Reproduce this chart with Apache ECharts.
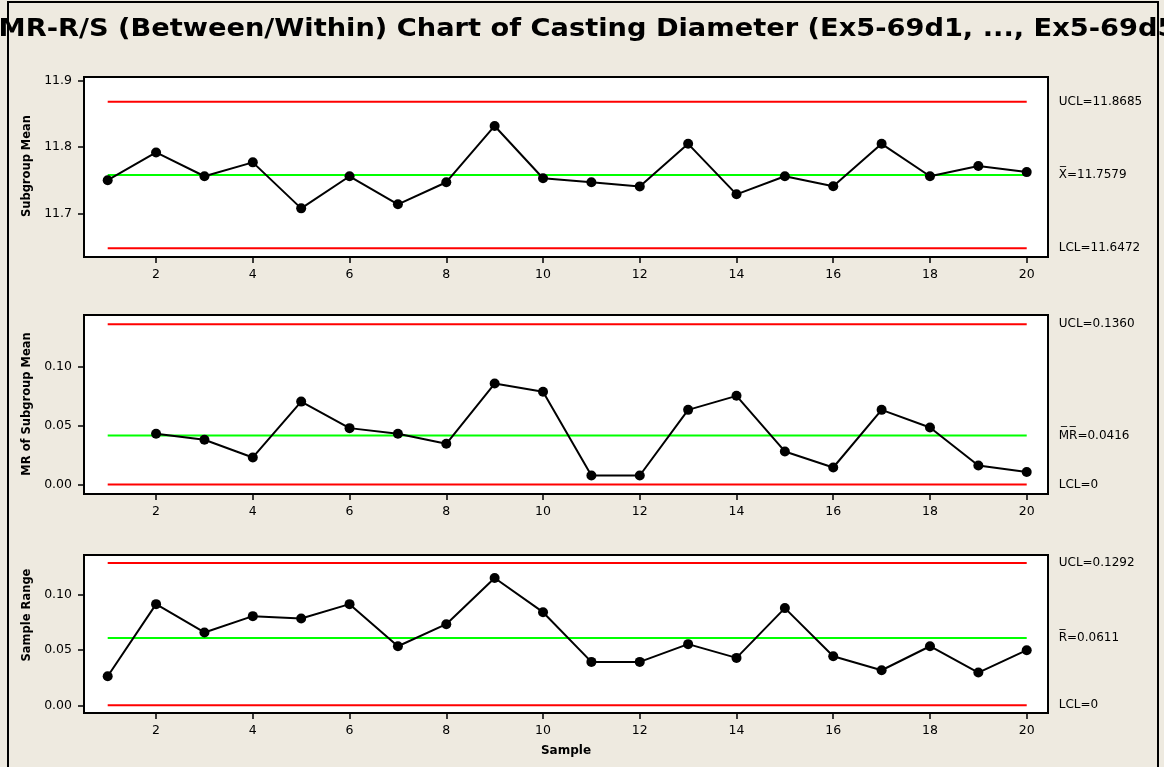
<!DOCTYPE html>
<html>
<head>
<meta charset="utf-8">
<script src="https://cdn.jsdelivr.net/npm/echarts@6/dist/echarts.min.js"></script>
<style>
  html, body { margin: 0; padding: 0; background: #EEEAE0; }
  #chart { width: 1164px; height: 767px; }
</style>
</head>
<body>
<div id="chart"></div>
<script>
// Casting diameter, 20 subgroups (Ex5-69d1 ... Ex5-69d5)
const samples = [1, 2, 3, 4, 5, 6, 7, 8, 9, 10, 11, 12, 13, 14, 15, 16, 17, 18, 19, 20];

const subgroupMeans = [11.750, 11.792, 11.756, 11.777, 11.7075, 11.756, 11.7136, 11.747, 11.832, 11.753,
                       11.747, 11.7407, 11.805, 11.7287, 11.756, 11.741, 11.805, 11.756, 11.7714, 11.7623];

// moving range of subgroup means (starts at sample 2)
const movingRanges = [null, 0.0430, 0.0379, 0.0229, 0.0703, 0.0478, 0.0430, 0.0345, 0.0856, 0.0786,
                      0.0076, 0.0076, 0.0633, 0.0752, 0.0280, 0.0144, 0.0633, 0.0483, 0.0161, 0.0105];

const sampleRanges = [0.0264, 0.0918, 0.0661, 0.0809, 0.0788, 0.0918, 0.0536, 0.0736, 0.1155, 0.0845,
                      0.0394, 0.0394, 0.0555, 0.0430, 0.0882, 0.0445, 0.0318, 0.0536, 0.0297, 0.0500];

// [UCL, centre line, LCL]
const meanLimits  = [11.8685, 11.7579, 11.6472];
const mrLimits    = [0.1360, 0.0416, 0];
const rangeLimits = [0.1292, 0.0611, 0];

const meanLimitLabels  = ['UCL=11.8685', 'X\u0305=11.7579', 'LCL=11.6472'];
const mrLimitLabels    = ['UCL=0.1360', 'M\u0305R\u0305=0.0416', 'LCL=0'];
const rangeLimitLabels = ['UCL=0.1292', 'R\u0305=0.0611', 'LCL=0'];

const xTicks     = [2, 4, 6, 8, 10, 12, 14, 16, 18, 20];
const meanTicks  = [11.7, 11.8, 11.9];
const rangeTicks = [0, 0.05, 0.10];

const FONT = 'DejaVu Sans';
const RED = '#FF0000', GREEN = '#00FF00';

const chart = echarts.init(document.getElementById('chart'), null, { renderer: 'canvas' });

const grids = [
  { left: 84, right: 116, top: 77, height: 180 },
  { left: 84, right: 116, top: 315, height: 179 },
  { left: 84, right: 116, top: 555, height: 158 }
].map(g => Object.assign(g, { show: true, backgroundColor: '#fff', borderColor: '#000', borderWidth: 2 }));

function xAxis(idx, name) {
  return {
    gridIndex: idx, type: 'value', min: 0.51, max: 20.44,
    name: name || '', nameLocation: 'middle', nameGap: 32,
    nameTextStyle: { fontFamily: FONT, fontWeight: 'bold', fontSize: 12, color: '#000' },
    axisLine: { show: true, onZero: false, lineStyle: { color: '#000', width: 2 } },
    axisTick: { show: true, customValues: xTicks, length: 6, lineStyle: { color: '#000', width: 1.5 } },
    axisLabel: { show: true, customValues: xTicks, margin: 11, fontFamily: FONT, fontSize: 12.5, color: '#000' },
    splitLine: { show: false }
  };
}

function yAxis(idx, min, max, ticks, digits) {
  return {
    gridIndex: idx, type: 'value', min: min, max: max,
    axisLine: { show: true, onZero: false, lineStyle: { color: '#000', width: 2 } },
    axisTick: { show: true, customValues: ticks, length: 6, lineStyle: { color: '#000', width: 1.5 } },
    axisLabel: { show: true, customValues: ticks, margin: 12, fontFamily: FONT, fontSize: 12.5, color: '#000',
                 formatter: v => Number(v).toFixed(digits) },
    splitLine: { show: false }
  };
}

function limitSeries(idx, limits, labels) {
  const colors = [RED, GREEN, RED];
  return limits.map((v, k) => ({
    type: 'line', xAxisIndex: idx, yAxisIndex: idx,
    data: [[samples[0], v], [samples[samples.length - 1], v]],
    symbol: 'none', silent: true,
    lineStyle: { color: colors[k], width: 2 },
    endLabel: { show: true, formatter: labels[k], distance: 32, color: '#000',
                fontFamily: FONT, fontSize: 12 }
  }));
}

function dataSeries(idx, values) {
  const pts = [];
  samples.forEach((s, i) => { if (values[i] !== null) pts.push([s, values[i]]); });
  return {
    type: 'line', xAxisIndex: idx, yAxisIndex: idx, data: pts,
    symbol: 'circle', symbolSize: 10, showSymbol: true, z: 5,
    itemStyle: { color: '#000' },
    lineStyle: { color: '#000', width: 2 }
  };
}

const axisTitle = (text, x, y) => ({
  type: 'text', x: x, y: y, rotation: Math.PI / 2,
  style: { text: text, x: 0, y: 0, align: 'center', verticalAlign: 'middle',
           font: 'bold 11.5px "' + FONT + '"', fill: '#000' }
});

chart.setOption({
  animation: false,
  backgroundColor: '#EEEAE0',
  grid: grids,
  xAxis: [xAxis(0), xAxis(1), xAxis(2, 'Sample')],
  yAxis: [
    yAxis(0, 11.634, 11.906, meanTicks, 1),
    yAxis(1, -0.0081, 0.1438, rangeTicks, 2),
    yAxis(2, -0.007, 0.1364, rangeTicks, 2)
  ],
  series: [
    ...limitSeries(0, meanLimits, meanLimitLabels),
    dataSeries(0, subgroupMeans),
    ...limitSeries(1, mrLimits, mrLimitLabels),
    dataSeries(1, movingRanges),
    ...limitSeries(2, rangeLimits, rangeLimitLabels),
    dataSeries(2, sampleRanges)
  ],
  graphic: [
    { type: 'rect', shape: { x: 8, y: 2, width: 1150, height: 800 },
      style: { fill: 'none', stroke: '#000', lineWidth: 2 }, z: 0 },
    { type: 'text', x: 583, y: 29, scaleX: 1.09, z: 10,
      style: { text: 'I-MR-R/S (Between/Within) Chart of Casting Diameter (Ex5-69d1, ..., Ex5-69d5)',
               x: 0, y: 0, align: 'center', verticalAlign: 'middle',
               font: 'bold 25px "' + FONT + '"', fill: '#000' } },
    axisTitle('Subgroup Mean', 27, 166),
    axisTitle('MR of Subgroup Mean', 27, 404),
    axisTitle('Sample Range', 27, 615)
  ]
});
</script>
</body>
</html>
